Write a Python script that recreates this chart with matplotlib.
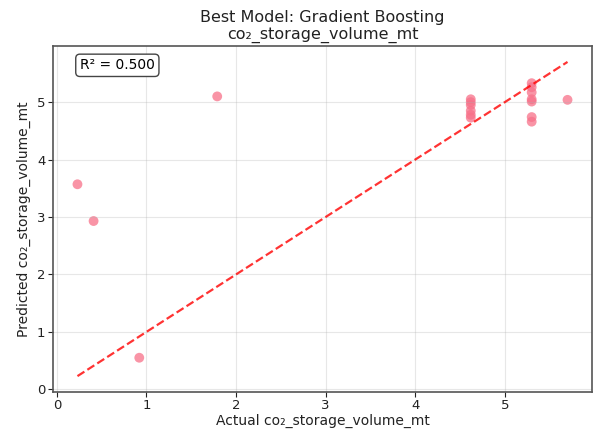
import numpy as np
import matplotlib
matplotlib.use("Agg")
import matplotlib.pyplot as plt

actual = [0.23, 0.41, 0.92, 1.79,
          4.62, 4.62, 4.62, 4.62, 4.62, 4.62,
          5.30, 5.30, 5.30, 5.30, 5.30, 5.30, 5.30,
          5.70]
predicted = [3.57, 2.93, 0.55, 5.10,
             5.05, 5.00, 4.95, 4.85, 4.78, 4.73,
             5.33, 5.26, 5.17, 5.05, 5.01, 4.74, 4.66,
             5.04]
r2 = 0.500
target = "co\u2082_storage_volume_mt"

fig = plt.figure(figsize=(5.95, 4.32), dpi=100)
ax = fig.add_axes([0.089, 0.093, 0.906, 0.80])

ax.scatter(actual, predicted, s=50, color="#f77189", alpha=0.75, edgecolors="none")
lo, hi = min(actual), max(actual)
ax.plot([lo, hi], [lo, hi], "r--", lw=1.6, alpha=0.8)

ax.set_title("Best Model: Gradient Boosting\n" + target, fontsize=11.5, color="#222222", pad=5)
ax.set_xlabel("Actual " + target, fontsize=10, color="#222222", labelpad=1)
ax.set_ylabel("Predicted " + target, fontsize=10, color="#222222", labelpad=4)
ax.tick_params(labelsize=9.5, colors="#222222", pad=2)
ax.grid(True, alpha=0.3)
for s in ax.spines.values():
    s.set_color("#555555")
    s.set_linewidth(1.2)

ax.text(0.05, 0.965, "R\u00b2 = %.3f" % r2, transform=ax.transAxes, fontsize=10,
        va="top", bbox=dict(boxstyle="round", facecolor="white", edgecolor="#444444"))

fig.savefig("out.png", dpi=100)
